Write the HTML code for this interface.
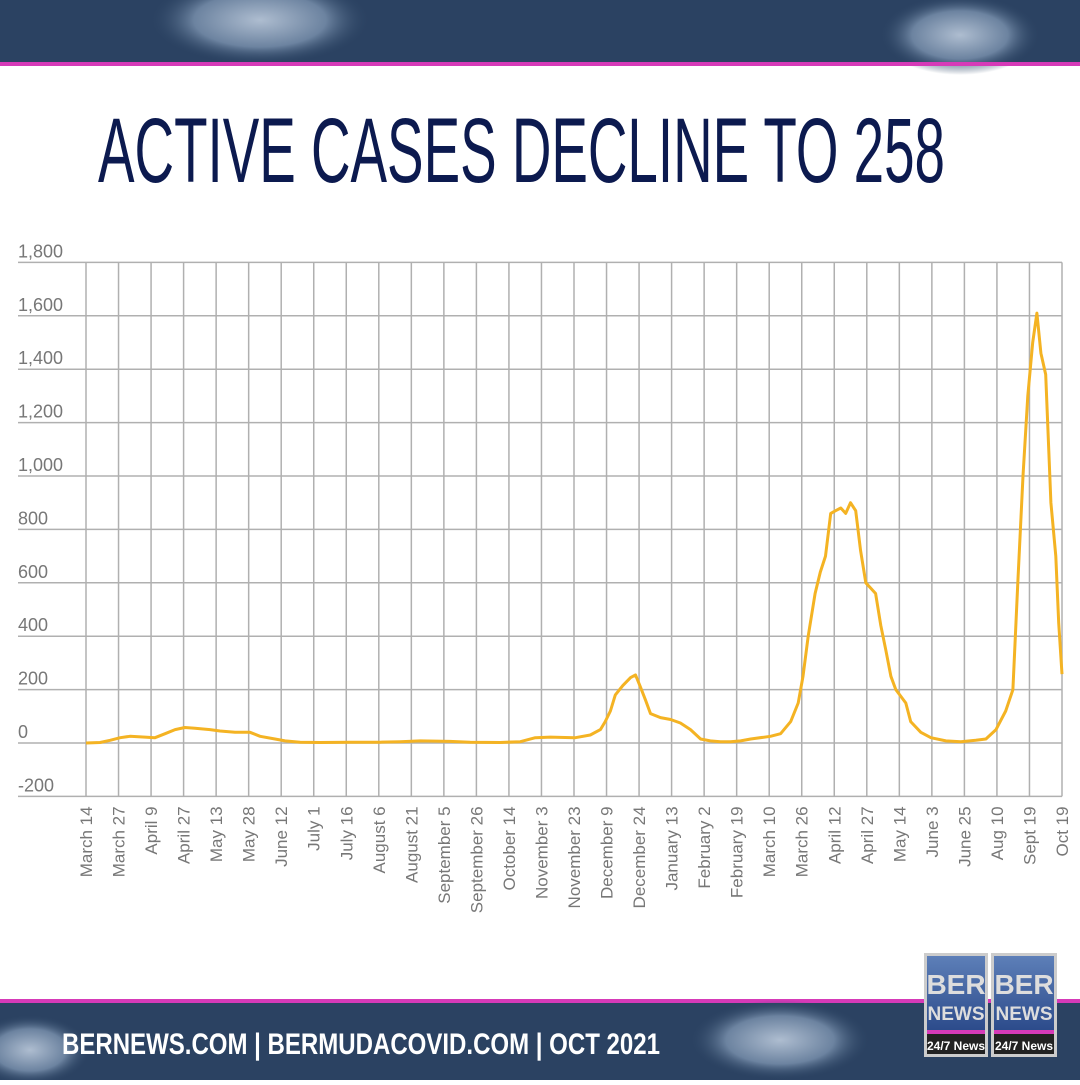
<!DOCTYPE html>
<html><head><meta charset="utf-8"><style>
body{margin:0;width:1080px;height:1080px;overflow:hidden;background:#fff;font-family:"Liberation Sans",sans-serif}
</style></head><body>
<svg id="chart" width="1080" height="1080" xmlns="http://www.w3.org/2000/svg">
<defs>
<radialGradient id="v1" cx="0.5" cy="0.5" r="0.5"><stop offset="0" stop-color="#aebdd0"/><stop offset="0.6" stop-color="#6c83a0"/><stop offset="1" stop-color="#2c4463" stop-opacity="0"/></radialGradient>
<linearGradient id="bx" x1="0" y1="0" x2="0" y2="1"><stop offset="0" stop-color="#5d7fb8"/><stop offset="1" stop-color="#2b4a8a"/></linearGradient>
</defs>
<g>
<rect x="0" y="0" width="1080" height="63" fill="#2b4262"/>
<ellipse cx="260" cy="20" rx="110" ry="45" fill="url(#v1)"/>
<ellipse cx="960" cy="35" rx="80" ry="40" fill="url(#v1)"/>
<rect x="0" y="62" width="1080" height="4" fill="#d63ab8"/>
</g>
<text x="98" y="182" font-family="Liberation Sans Narrow, Liberation Sans, sans-serif" font-size="92" fill="#0c1a4f" textLength="847" lengthAdjust="spacingAndGlyphs">ACTIVE CASES DECLINE TO 258</text>
<g id="grid"></g>
<g id="yaxis"></g>
<g id="xaxis"></g>
<path id="line" fill="none" stroke="#f4b323" stroke-width="3" stroke-linejoin="round"/>
<g>
<rect x="0" y="999" width="1080" height="4" fill="#d63ab8"/>
<rect x="0" y="1003" width="1080" height="77" fill="#2b4262"/>
<ellipse cx="780" cy="1040" rx="90" ry="40" fill="url(#v1)"/>
<ellipse cx="30" cy="1050" rx="60" ry="35" fill="url(#v1)"/>
<text x="62" y="1054" font-family="Liberation Sans Narrow, Liberation Sans, sans-serif" font-weight="bold" font-size="30" fill="#fff" textLength="598" lengthAdjust="spacingAndGlyphs">BERNEWS.COM | BERMUDACOVID.COM | OCT 2021</text>
</g>
<g>
<rect x="924" y="953" width="64" height="104" fill="#ccc"/>
<rect x="991" y="953" width="66" height="104" fill="#ccc"/>
<rect x="927" y="956" width="58" height="76" fill="url(#bx)"/>
<rect x="994" y="956" width="60" height="76" fill="url(#bx)"/>
<rect x="927" y="1030" width="58" height="4" fill="#d63ab8"/>
<rect x="994" y="1030" width="60" height="4" fill="#d63ab8"/>
<rect x="927" y="1034" width="58" height="20" fill="#222"/>
<rect x="994" y="1034" width="60" height="20" fill="#222"/>
<text x="956" y="994" text-anchor="middle" font-weight="bold" font-size="28" fill="#ddd">BER</text>
<text x="1024" y="994" text-anchor="middle" font-weight="bold" font-size="28" fill="#ddd">BER</text>
<text x="956" y="1020" text-anchor="middle" font-weight="bold" font-size="19" fill="#ddd">NEWS</text>
<text x="1024" y="1020" text-anchor="middle" font-weight="bold" font-size="19" fill="#ddd">NEWS</text>
<text x="956" y="1050" text-anchor="middle" font-weight="bold" font-size="12" fill="#fff">24/7 News</text>
<text x="1024" y="1050" text-anchor="middle" font-weight="bold" font-size="12" fill="#fff">24/7 News</text>
</g>
</svg>
<script>
const yTicks=[1800,1600,1400,1200,1000,800,600,400,200,0,-200];
const yTickLabels=["1,800","1,600","1,400","1,200","1,000","800","600","400","200","0","-200"];
const xLabels=["March 14","March 27","April 9","April 27","May 13","May 28","June 12","July 1","July 16","August 6","August 21","September 5","September 26","October 14","November 3","November 23","December 9","December 24","January 13","February 2","February 19","March 10","March 26","April 12","April 27","May 14","June 3","June 25","Aug 10","Sept 19","Oct 19"];
// x position in label-index units, value = active cases
const seriesX=[0,0.43,0.74,1.05,1.35,1.81,2.12,2.43,2.74,3.04,3.35,3.81,4.12,4.58,5.04,5.35,5.81,6.12,6.58,7.19,8.12,9.04,9.66,10.27,11.19,11.81,12.73,13.35,13.81,14.27,15.04,15.50,15.81,15.96,16.12,16.27,16.50,16.74,16.89,17.04,17.20,17.35,17.66,17.97,18.27,18.58,18.89,19.19,19.50,19.81,20.12,20.43,21.04,21.35,21.66,21.89,22.04,22.20,22.41,22.57,22.73,22.89,23.04,23.20,23.35,23.50,23.66,23.81,23.97,24.12,24.27,24.43,24.58,24.74,24.89,25.20,25.35,25.66,25.97,26.43,26.89,27.35,27.66,27.97,28.27,28.49,28.64,28.80,28.95,29.10,29.23,29.35,29.50,29.66,29.81,29.90,30];
const seriesY=[0,2,10,20,25,22,20,35,50,58,55,50,45,40,40,25,15,8,3,2,3,3,5,8,6,3,2,5,20,22,20,30,50,80,120,180,215,245,255,210,160,110,95,88,75,50,15,8,5,5,8,15,25,35,80,150,250,400,560,640,700,860,870,880,860,900,870,720,600,580,560,440,350,250,200,150,80,40,20,8,5,10,15,50,120,200,600,1000,1300,1500,1610,1460,1380,900,700,450,258];
const X0=86,X1=1062,Y0=743,PX=53.4/200;
const xs=i=>X0+(X1-X0)*i/(xLabels.length-1);
const ys=v=>Y0-v*PX;
const NS="http://www.w3.org/2000/svg";
const grid=document.getElementById('grid'),ya=document.getElementById('yaxis'),xa=document.getElementById('xaxis');
function mk(tag,attrs,parent){const e=document.createElementNS(NS,tag);for(const k in attrs)e.setAttribute(k,attrs[k]);parent.appendChild(e);return e;}
yTicks.forEach((v,i)=>{
 const l=mk('line',{x1:18,x2:X1,y1:ys(v),y2:ys(v),stroke:'#b0b0b0','stroke-width':1.5},grid);
 
 
 const t=mk('text',{x:18,y:ys(v)-5,'font-size':18,fill:'#777'},ya);
 
 
 t.textContent=yTickLabels[i];
});
xLabels.forEach((s,i)=>{
 const x=xs(i);
 const l=mk('line',{x1:x,x2:x,y1:ys(1800),y2:ys(-200),stroke:'#b0b0b0','stroke-width':1.5},grid);
 
 
 const t=mk('text',{x:0,y:0,'font-size':17,fill:'#777','text-anchor':'end',transform:`translate(${x+6},${ys(-200)+10}) rotate(-90)`},xa);
 
 
 t.textContent=s;
});
let d='';
seriesX.forEach((xi,i)=>{d+=(i?'L':'M')+xs(xi).toFixed(1)+','+ys(seriesY[i]).toFixed(1);});
document.getElementById('line').setAttribute('d',d);
</script>
</body></html>
